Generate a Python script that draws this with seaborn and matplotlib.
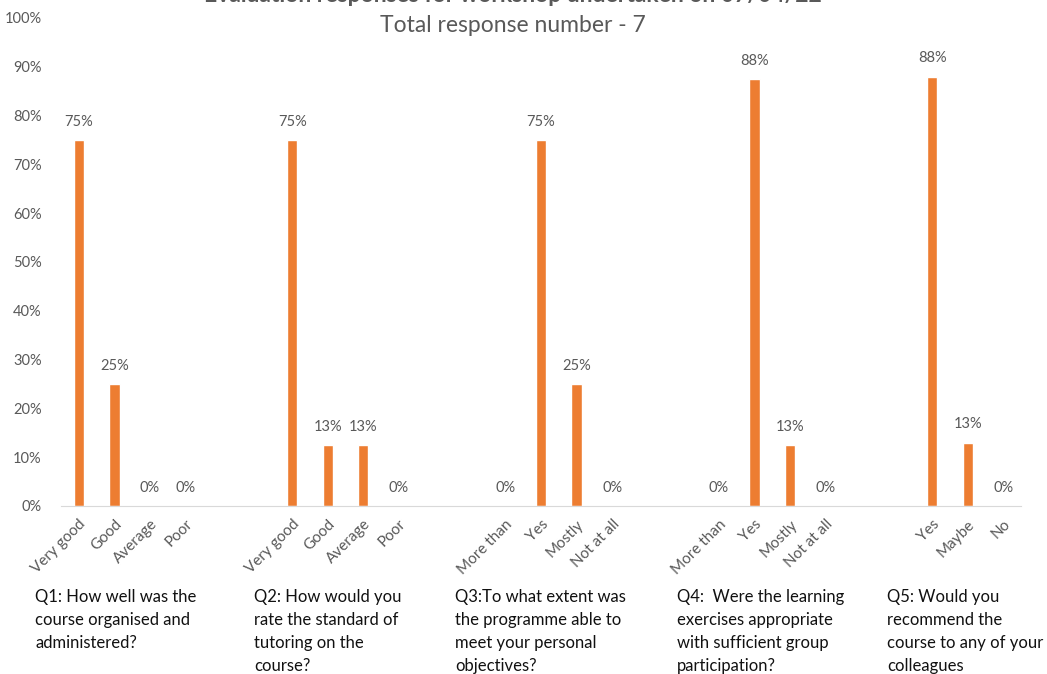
import pandas as pd
import matplotlib.pyplot as plt
import seaborn as sns

# -----------------------------
# Data (share of responses, %)
# -----------------------------
q1_answers = ["Very good", "Good", "Average", "Poor"]
q1_values = [75, 25, 0, 0]
q2_answers = ["Very good", "Good", "Average", "Poor"]
q2_values = [75, 12.5, 12.5, 0]
q3_answers = ["More than", "Yes", "Mostly", "Not at all"]
q3_values = [0, 75, 25, 0]
q4_answers = ["More than", "Yes", "Mostly", "Not at all"]
q4_values = [0, 87.5, 12.5, 0]
q5_answers = ["Yes", "Maybe", "No"]
q5_values = [88, 13, 0]

questions = [
    "Q1: How well was the\ncourse organised and\nadministered?",
    "Q2: How would you\nrate the standard of\ntutoring on the\ncourse?",
    "Q3:To what extent was\nthe programme able to\nmeet your personal\nobjectives?",
    "Q4:  Were the learning\nexercises appropriate\nwith sufficient group\nparticipation?",
    "Q5: Would you\nrecommend the\ncourse to any of your\ncolleagues",
]

groups = [
    (q1_answers, q1_values),
    (q2_answers, q2_values),
    (q3_answers, q3_values),
    (q4_answers, q4_values),
    (q5_answers, q5_values),
]

# build long table + category order with two blank slots between questions
rows, order, ticklabels = [], [], []
for gi, (answers, values) in enumerate(groups):
    if gi > 0:
        for s in range(2):
            order.append(f"gap{gi}_{s}")
            ticklabels.append("")
    for a, v in zip(answers, values):
        key = f"Q{gi + 1}|{a}"
        rows.append({"key": key, "pct": v})
        order.append(key)
        ticklabels.append(a)
df = pd.DataFrame(rows)

# -----------------------------
# Plot
# -----------------------------
sns.set_style("white")
plt.rcParams["font.family"] = ["Lato", "DejaVu Sans"]
grey = "#595959"

fig = plt.figure(figsize=(10.47, 6.74), dpi=100)
ax = fig.add_axes([0.0583, 0.2493, 0.917, 0.724])
sns.barplot(data=df, x="key", y="pct", order=order, color="#ED7D31",
            width=0.29, saturation=1, ax=ax)

ax.set_ylim(0, 100)
ax.set_xlim(-0.5, len(order) - 0.5)
ax.set_yticks(range(0, 101, 10))
ax.set_yticklabels([f"{t}%" for t in range(0, 101, 10)], color=grey, fontsize=10.5)
ax.set_xticks(range(len(order)))
ax.set_xticklabels(ticklabels, rotation=45, ha="right", rotation_mode="anchor",
                   color=grey, fontsize=11)
ax.tick_params(axis="y", length=0, pad=14)
ax.tick_params(axis="x", length=0, pad=8)
ax.set_xlabel("")
ax.set_ylabel("")
for side in ["top", "right", "left"]:
    ax.spines[side].set_visible(False)
ax.spines["bottom"].set_color("#D9D9D9")
ax.grid(False)

for c in ax.containers:
    ax.bar_label(c, labels=[f"{int(v + 0.5)}%" for v in c.datavalues],
                 padding=8, color=grey, fontsize=10.5)

# title (top line is clipped by the figure edge, as in the original)
fig.text(0.49, 1.006, "Evaluation responses for workshop undertaken on 07/04/22",
         ha="center", va="center", fontsize=16.5, fontweight="bold", color=grey)
fig.text(0.49, 0.962, "Total response number - 7", ha="center", va="center",
         fontsize=16.5, color=grey)

q_x = [35, 254, 455, 677, 887]
for x, q in zip(q_x, questions):
    fig.text(x / 1047, 1 - 589 / 674, q, ha="left", va="top", fontsize=12,
             color="#111111", linespacing=1.55)

plt.savefig("out.png", dpi=100)
